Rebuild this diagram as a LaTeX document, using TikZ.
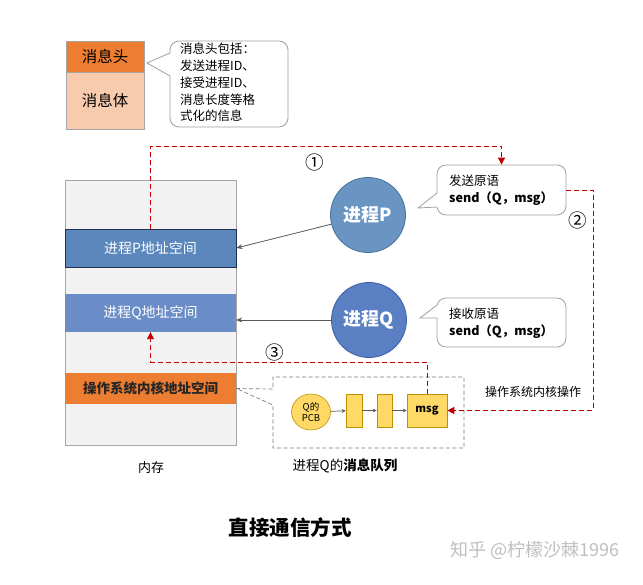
\documentclass[tikz,border=0pt]{standalone}
\usepackage{fontspec}
\setmainfont{Noto Sans CJK SC}
\usetikzlibrary{arrows.meta,shapes.geometric}
\definecolor{orng}{HTML}{ED7D31}
\definecolor{peach}{HTML}{F8CBAD}
\definecolor{memgray}{HTML}{F2F2F2}
\definecolor{memborder}{HTML}{A6A6A6}
\definecolor{pblue}{HTML}{5B87BC}
\definecolor{pborder}{HTML}{1F3050}
\definecolor{qblue}{HTML}{6A8DC8}
\definecolor{circP}{HTML}{6A94C2}
\definecolor{circPb}{HTML}{41719C}
\definecolor{circQ}{HTML}{5A7FC3}
\definecolor{circQb}{HTML}{3A5EA0}
\definecolor{dred}{HTML}{C00000}
\definecolor{yel}{HTML}{FFD966}
\definecolor{yelb}{HTML}{BF9000}
\definecolor{calloutb}{HTML}{A0A0A0}
\definecolor{arrgray}{HTML}{595959}
\tikzset{
  band/.style={rectangle, minimum width=171pt, inner sep=0pt},
  circproc/.style={circle, minimum size=75pt, inner sep=0pt, text=white, font=\fontsize{18}{20}\selectfont\bfseries},
  callbox/.style={rectangle, rounded corners=9pt, draw=calloutb, fill=white, line width=0.8pt, inner sep=0pt},
  calltext/.style={anchor=west, align=left, inner sep=0pt, font=\fontsize{12.5}{16.8}\selectfont},
  reddash/.style={draw=dred, line width=0.9pt, dash pattern=on 5pt off 3pt},
  redtip/.style={-{Triangle[width=7pt,length=7pt]}},
  grayarr/.style={draw=arrgray, line width=0.8pt, -{Stealth[width=5pt,length=6pt]}},
  smallarr/.style={draw=arrgray, line width=0.7pt, -{Stealth[width=4pt,length=4pt]}},
  qitem/.style={rectangle, fill=yel, draw=yelb, line width=0.6pt, inner sep=0pt, minimum height=33pt},
  numlab/.style={font=\fontsize{18.5}{20}\selectfont, inner sep=0pt},
}
\begin{document}
\begin{tikzpicture}[x=1pt,y=-1pt]
\useasboundingbox[fill=white] (0,0) rectangle (643,585);

% message structure
\node[rectangle, fill=orng, draw=memborder, line width=0.5pt, minimum width=78pt, minimum height=31pt, inner sep=0pt, font=\fontsize{15.5}{17}\selectfont] (head) at (105,56.5) {消息头};
\node[rectangle, fill=peach, draw=memborder, line width=0.5pt, minimum width=78pt, minimum height=57pt, inner sep=0pt, font=\fontsize{15.5}{17}\selectfont] (body) at (105,100.5) {消息体};

% top callout
\node[callbox, minimum width=118pt, minimum height=86pt] (hcall) at (229,84) {};
\coordinate (htip) at (147,63);
\fill[white] (171,53) -- (htip) -- (171,76) -- cycle;
\draw[calloutb, line width=0.8pt] (170,53) -- (htip) -- (170,76);
\node[calltext] (htext) at (180,82.5) {消息头包括：\\发送进程ID、\\接受进程ID、\\消息长度等格\\式化的信息};

% memory
\node[rectangle, fill=memgray, draw=memborder, line width=0.7pt, minimum width=171pt, minimum height=265pt, inner sep=0pt] (mem) at (150.5,312.5) {};
\node[band, fill=pblue, draw=pborder, line width=0.8pt, minimum height=38pt, text=white, font=\fontsize{14}{16}\selectfont] (paddr) at (150.5,248) {进程P地址空间};
\node[band, fill=qblue, minimum height=38pt, text=white, font=\fontsize{14}{16}\selectfont] (qaddr) at (150.5,313) {进程Q地址空间};
\node[band, fill=orng, minimum height=31pt, text=black!85, font=\fontsize{13.5}{16}\selectfont\bfseries] (kernel) at (150.5,388.5) {操作系统内核地址空间};
\node[font=\fontsize{13}{15}\selectfont, inner sep=0pt] (memlab) at (151,468) {内存};

% processes
\node[circproc, fill=circP, draw=circPb, line width=0.8pt] (pc) at (368,215) {进程P};
\node[circproc, fill=circQ, draw=circQb, line width=0.8pt] (qc) at (369,320) {进程Q};
\draw[grayarr] (pc) -- (paddr.east);
\draw[grayarr] (qc.west) -- (qc.west -| qaddr.east);

% send callout
\node[callbox, minimum width=129pt, minimum height=50pt] (scall) at (501.5,190) {};
\coordinate (stip) at (418,208);
\fill[white] (438,193) -- (stip) -- (438,207) -- cycle;
\draw[calloutb, line width=0.8pt] (437,193) -- (stip) -- (437,207);
\node[calltext] (stext) at (449,190.5) {发送原语\\\textbf{send（Q，msg）}};

% receive callout
\node[callbox, minimum width=129pt, minimum height=49pt] (rcall) at (501.5,322.5) {};
\coordinate (rtip) at (420,318);
\fill[white] (438,305) -- (rtip) -- (438,318) -- cycle;
\draw[calloutb, line width=0.8pt] (437,305) -- (rtip) -- (437,318);
\node[calltext] (rtext) at (449,323) {接收原语\\\textbf{send（Q，msg）}};

% message queue
\draw[draw=arrgray!80, line width=0.7pt, dash pattern=on 4pt off 2.5pt]
  (kernel.east) -- (273,389) -- (273,377) -- (464,377) -- (464,448) -- (273,448) -- (273,405) -- cycle;
\node[ellipse, fill=yel, draw=yelb, line width=0.6pt, minimum width=39pt, minimum height=36pt, inner sep=0pt, align=center, font=\fontsize{9.5}{11}\selectfont] (pcb) at (311,412) {Q的\\PCB};
\node[qitem, minimum width=16pt] (q1) at (354,410.5) {};
\node[qitem, minimum width=15pt] (q2) at (384.5,410.5) {};
\node[qitem, minimum width=40pt, font=\fontsize{11}{12}\selectfont\bfseries] (msg) at (427,410.5) {msg};
\draw[smallarr] (pcb) -- (q1);
\draw[smallarr] (q1) -- (q2);
\draw[smallarr] (q2) -- (msg);
\node[font=\fontsize{13.5}{15}\selectfont, inner sep=0pt] (qlab) at (345,466) {进程Q的\textbf{消息队列}};

% red dashed flows
\coordinate (top1) at (300,146);
\draw[reddash, redtip] (paddr.north) |- (top1) -| (scall.north);
\node[numlab] (n1) at (315,162) {①};
\coordinate (right2) at (593,300);
\draw[reddash, redtip] (scall.east) -| (right2) |- (msg.east);
\node[numlab] (n2) at (578,220) {②};
\node[font=\fontsize{12}{14}\selectfont, inner sep=0pt] (oplab) at (533,392) {操作系统内核操作};
\coordinate (mid3) at (300,362);
\draw[reddash, redtip] (msg.north) |- (mid3) -| (qaddr.south);
\node[numlab] (n3) at (275,352) {③};

% title & watermark
\node[font=\fontsize{20.5}{22}\selectfont\bfseries, inner sep=0pt] (title) at (290,528) {直接通信方式};
\node[font=\fontsize{18}{20}\selectfont, text=black!25, inner sep=0pt] (wm) at (535,550) {知乎 @柠檬沙棘1996};
\end{tikzpicture}
\end{document}
